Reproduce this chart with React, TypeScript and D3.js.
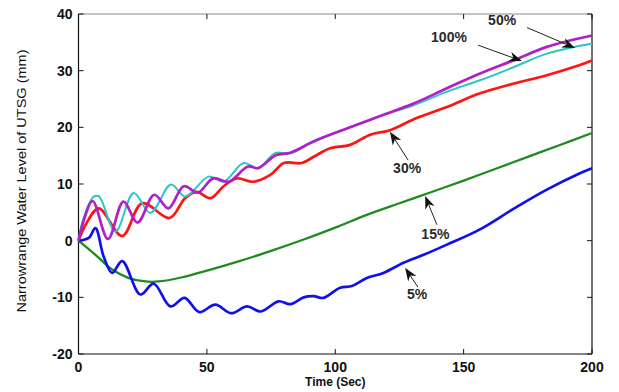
import React from "react";
import * as d3 from "d3";

const W = 619;
const H = 392;
const M = { left: 78.5, top: 14, right: 592, bottom: 354 };

const xTicks = [0, 50, 100, 150, 200];
const yTicks = [-20, -10, 0, 10, 20, 30, 40];

// Magenta series
const tMag = [0, 2, 5.5, 11.5, 17.5, 23, 29.5, 35, 41, 46.5, 52.5, 58.5, 66, 70, 77, 82.5, 91.6, 104.5, 117.5, 130.5, 143.5, 156.4, 169.4, 182.4, 200];
const vMag = [0, 3.5, 7.0, 0.3, 6.9, 3.2, 8.1, 5.7, 9.6, 8.5, 11, 10.4, 13.1, 12.8, 15.1, 15.5, 17.5, 19.8, 22.0, 24.2, 26.9, 29.5, 31.8, 34.2, 36.2];

// Cyan series
const tCyan = [0, 2, 6, 8, 14.4, 21.5, 28, 36, 41.6, 50.7, 56.5, 64.3, 70, 76.7, 82.5, 91.6, 104.5, 117.5, 130.5, 143.5, 156.4, 169.4, 182.4, 200];
const vCyan = [0, 4, 7.8, 7.8, 1.6, 8.4, 4.9, 9.9, 7.8, 11.3, 10.4, 13.7, 12.8, 15.5, 15.4, 17.6, 19.8, 22.0, 23.9, 26.3, 28.3, 30.6, 33.0, 34.8];

// Red series
const tRed = [0, 3, 7.9, 17, 24.8, 35.5, 41.5, 46, 51.5, 56.5, 61.7, 68, 74.7, 80, 87, 91.6, 98, 105.8, 113.6, 121.4, 130.4, 143.5, 156.4, 169.3, 182.4, 195.3, 200];
const vRed = [0, 3, 5.7, 0.8, 6.6, 4.0, 7.5, 8.6, 7.5, 9.6, 11, 10.4, 11.6, 13.7, 13.7, 14.8, 16.3, 16.9, 18.7, 19.5, 21.4, 23.6, 26, 27.7, 29.2, 31, 31.8];

// Green series
const tGreen = [0, 6.6, 13.1, 19.6, 26, 31.2, 40, 50, 62, 75, 87.7, 100, 112, 125, 137, 150, 162, 175, 187, 200];
const vGreen = [0, -2.5, -5.1, -6.6, -7.2, -7.2, -6.5, -5.3, -3.7, -1.8, 0.2, 2.3, 4.5, 6.6, 8.5, 10.6, 12.6, 14.8, 16.8, 19.0];

// Blue series
const tBlue = [0, 4, 6.6, 9.8, 13.1, 17, 24.1, 29.3, 35.8, 41.3, 47, 53.3, 59.5, 65.6, 71, 77.9, 82.5, 87.7, 91.6, 95.4, 101.9, 106.5, 112.3, 118.8, 126.6, 134.4, 143.5, 156, 169.4, 182.4, 195.3, 200];
const vBlue = [0, 0.5, 2.2, -2.8, -5.7, -3.6, -9.5, -7.6, -11.6, -10.1, -12.6, -11.3, -12.8, -11.6, -12.5, -10.7, -11.2, -10, -9.8, -10.1, -8.3, -8.0, -6.6, -5.7, -3.9, -2.5, -0.7, 1.9, 5.6, 9.0, 11.9, 12.8];

// Annotations (data units)
const annLabels = ["50%", "100%", "30%", "15%", "5%"];
const annTip = [[193.4, 34.0], [172.7, 31.7], [121.3, 19.2], [135, 7.9], [127.2, -4.8]];
const annTail = [[174.7, 37.6], [155.6, 34.5], [128.4, 14.2], [139.6, 2.8], [132.2, -8.2]];
const annText = [[165, 38.0], [144.3, 35.0], [128, 11.9], [139, 0.3], [131.9, -10.3]];

const series = [
  { t: tGreen, v: vGreen, color: "#1f8a1f", width: 2.3 },
  { t: tBlue, v: vBlue, color: "#1010ee", width: 2.7 },
  { t: tRed, v: vRed, color: "#ff1414", width: 2.7 },
  { t: tCyan, v: vCyan, color: "#2cc6c6", width: 2.0 },
  { t: tMag, v: vMag, color: "#b21ec8", width: 2.7 },
];

export default function App() {
  const x = d3.scaleLinear().domain([0, 200]).range([M.left, M.right]);
  const y = d3.scaleLinear().domain([-20, 40]).range([M.bottom, M.top]);
  const line = d3
    .line<[number, number]>()
    .x((d) => x(d[0]))
    .y((d) => y(d[1]))
    .curve(d3.curveCatmullRom.alpha(0.5));

  const tickFont = "'Liberation Sans', Arial, sans-serif";

  return (
    <svg width={W} height={H} style={{ position: "absolute", left: 0, top: 0, background: "#fff" }}>
      <rect x={0} y={0} width={W} height={H} fill="#fff" />
      <line x1={M.left} x2={M.right} y1={M.top} y2={M.top} stroke="#888" strokeWidth={1} />
      <line x1={M.right} x2={M.right} y1={M.top} y2={M.bottom} stroke="#111" strokeWidth={1.2} />
      <line x1={M.left} x2={M.right} y1={M.bottom} y2={M.bottom} stroke="#111" strokeWidth={1.2} />
      <line x1={M.left} x2={M.left} y1={M.top} y2={M.bottom} stroke="#111" strokeWidth={1.2} />
      {xTicks.map((t) => (
        <g key={"xt" + t}>
          <line x1={x(t)} x2={x(t)} y1={M.bottom} y2={M.bottom - 5} stroke="#111" />
          <line x1={x(t)} x2={x(t)} y1={M.top} y2={M.top + 5} stroke="#111" />
          <text x={x(t)} y={M.bottom + 18} textAnchor="middle" fontFamily={tickFont} fontWeight="bold" fontSize={14} fill="#111">
            {t}
          </text>
        </g>
      ))}
      {yTicks.map((v) => (
        <g key={"yt" + v}>
          <line x1={M.left} x2={M.left + 5} y1={y(v)} y2={y(v)} stroke="#111" />
          <line x1={M.right} x2={M.right - 5} y1={y(v)} y2={y(v)} stroke="#111" />
          <text x={M.left - 6} y={y(v) + 5} textAnchor="end" fontFamily={tickFont} fontWeight="bold" fontSize={14} fill="#111">
            {v}
          </text>
        </g>
      ))}
      <text x={(M.left + M.right) / 2} y={386} textAnchor="middle" fontFamily={tickFont} fontWeight="bold" fontSize={12} fill="#111">
        Time (Sec)
      </text>
      <text
        transform={`translate(26,${(M.top + M.bottom) / 2 - 3}) rotate(-90)`}
        textAnchor="middle"
        fontFamily="'Liberation Sans Narrow', 'Arial Narrow', 'Liberation Sans', sans-serif"
        fontSize={13}
        fill="#111"
        textLength={263}
        lengthAdjust="spacingAndGlyphs"
      >
        Narrowrange Water Level of UTSG (mm)
      </text>
      <g>
        {series.map((s, i) => (
          <path
            key={i}
            d={line(s.t.map((t, j) => [t, s.v[j]] as [number, number])) || ""}
            fill="none"
            stroke={s.color}
            strokeWidth={s.width}
            strokeLinejoin="round"
          />
        ))}
      </g>
      {annLabels.map((lab, i) => {
        const tx = x(annTip[i][0]);
        const ty = y(annTip[i][1]);
        const sx = x(annTail[i][0]);
        const sy = y(annTail[i][1]);
        const ang = Math.atan2(ty - sy, tx - sx);
        const L = 13;
        const Wd = 5;
        const bx = tx - L * Math.cos(ang);
        const by = ty - L * Math.sin(ang);
        const nx = -Math.sin(ang);
        const ny = Math.cos(ang);
        const notchX = tx - L * 0.7 * Math.cos(ang);
        const notchY = ty - L * 0.7 * Math.sin(ang);
        const pts = [
          [tx, ty],
          [bx + nx * Wd, by + ny * Wd],
          [notchX, notchY],
          [bx - nx * Wd, by - ny * Wd],
        ]
          .map((p) => p.join(","))
          .join(" ");
        return (
          <g key={lab}>
            <line x1={sx} y1={sy} x2={notchX} y2={notchY} stroke="#222" strokeWidth={1} />
            <polygon points={pts} fill="#111" />
            <text x={x(annText[i][0])} y={y(annText[i][1])} textAnchor="middle" fontFamily={tickFont} fontWeight="bold" fontSize={14} fill="#2a2a2a">
              {lab}
            </text>
          </g>
        );
      })}
    </svg>
  );
}
